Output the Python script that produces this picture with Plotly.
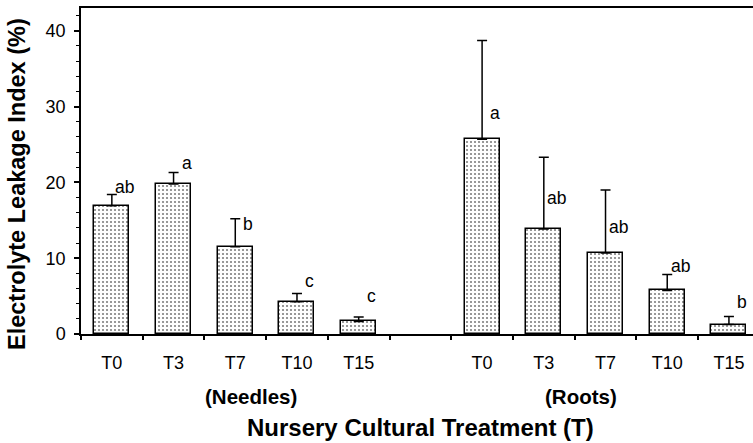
import plotly.graph_objects as go

# ---- data ----
treatments = ["T0", "T3", "T7", "T10", "T15"]
needles_eli = [16.9, 19.8, 11.5, 4.25, 1.65]
needles_err = [1.5, 1.5, 3.7, 1.1, 0.6]
needles_letters = ["ab", "a", "b", "c", "c"]
needles_letter_y = [19.4, 22.5, 14.5, 7.0, 4.97]

roots_eli = [25.7, 13.85, 10.7, 5.75, 1.25]
roots_err = [13.0, 9.45, 8.3, 2.1, 1.05]
roots_letters = ["a", "ab", "ab", "ab", "b"]
roots_letter_y = [29.1, 18.0, 14.15, 9.0, 4.18]

group_labels = ["(Needles)", "(Roots)"]

# positions: 5 needle slots, one empty slot, 5 root slots
needles_x = list(range(len(treatments)))
roots_x = [i + len(treatments) + 1 for i in range(len(treatments))]
n_slots = 2 * len(treatments) + 1

FONT = "Liberation Sans, Arial, sans-serif"

fig = go.Figure()

bar_style = dict(
    width=0.567,
    marker=dict(
        color="white",
        line=dict(color="black", width=1.5),
        pattern=dict(shape=".", fgcolor="black", bgcolor="white", size=4, solidity=0.22),
    ),
    showlegend=False,
)
err_style = dict(type="data", symmetric=False, color="black", thickness=1.5, width=5)

fig.add_trace(go.Bar(
    x=needles_x, y=needles_eli,
    error_y=dict(array=needles_err, arrayminus=[0] * len(needles_err), **err_style),
    **bar_style,
))
fig.add_trace(go.Bar(
    x=roots_x, y=roots_eli,
    error_y=dict(array=roots_err, arrayminus=[0] * len(roots_err), **err_style),
    **bar_style,
))

annotations = []
for xs, letters, ly in [(needles_x, needles_letters, needles_letter_y),
                        (roots_x, roots_letters, roots_letter_y)]:
    for x, t, yv in zip(xs, letters, ly):
        annotations.append(dict(
            x=x, y=yv, xref="x", yref="y", text=t, showarrow=False,
            xshift=13, xanchor="center", yanchor="middle",
            font=dict(family=FONT, size=17.5, color="black"),
        ))

# group labels
annotations.append(dict(x=2.255, y=-0.193, xref="x", yref="paper", text="<b>%s</b>" % group_labels[0],
                        showarrow=False, xanchor="center", yanchor="middle",
                        font=dict(family=FONT, size=20.5, color="black")))
annotations.append(dict(x=7.6, y=-0.193, xref="x", yref="paper", text="<b>%s</b>" % group_labels[1],
                        showarrow=False, xanchor="center", yanchor="middle",
                        font=dict(family=FONT, size=20.5, color="black")))
# axis titles
annotations.append(dict(x=0.5055, y=-0.288, xref="paper", yref="paper",
                        text="<b>Nursery Cultural Treatment (T)</b>",
                        showarrow=False, xanchor="center", yanchor="middle",
                        font=dict(family=FONT, size=24, color="black")))
annotations.append(dict(x=-0.0945, y=0.4617, xref="paper", yref="paper",
                        text="<b>Electrolyte Leakage Index (%)</b>", textangle=-90,
                        showarrow=False, xanchor="center", yanchor="middle",
                        font=dict(family=FONT, size=23.5, color="black")))

fig.update_layout(
    width=753, height=443,
    margin=dict(l=81, r=0, t=8, b=109),
    paper_bgcolor="white", plot_bgcolor="white",
    bargap=0,
    annotations=annotations,
    font=dict(family=FONT, color="black"),
    xaxis=dict(
        range=[-0.5, 10.39],
        tickmode="array",
        tickvals=needles_x + roots_x,
        ticktext=treatments + treatments,
        ticks="",
        ticklabelstandoff=11,
        tickfont=dict(family=FONT, size=18, color="black"),
        showline=True, linecolor="black", linewidth=2, mirror=True,
        showgrid=False, zeroline=False,
        minor=dict(tickmode="array", tickvals=[i - 0.5 for i in range(n_slots + 1)],
                   ticks="outside", ticklen=4, tickwidth=1.5, tickcolor="black",
                   showgrid=False),
    ),
    yaxis=dict(
        range=[0, 43.0],
        tickmode="linear", tick0=0, dtick=10,
        ticks="outside", ticklen=5, tickwidth=1.5, tickcolor="black",
        ticklabelstandoff=5,
        tickfont=dict(family=FONT, size=18, color="black"),
        showline=True, linecolor="black", linewidth=1.5,
        showgrid=False, zeroline=False,
        minor=dict(dtick=2, ticks="outside", ticklen=3, tickwidth=1.2, tickcolor="black",
                   showgrid=False),
    ),
)

fig.write_html("out.html", config={"displayModeBar": False},
               post_script="document.body.style.margin='0';")
